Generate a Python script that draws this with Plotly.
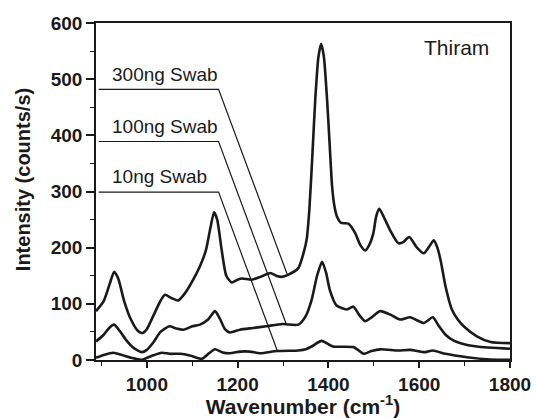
import plotly.graph_objects as go

# 300 ng swab spectrum
wn_300 = [888, 905, 918, 928, 937, 950, 965, 980, 990, 1000, 1015, 1030, 1040, 1055, 1069, 1085, 1100, 1117,
          1130, 1140, 1148, 1155, 1165, 1175, 1187, 1200, 1210, 1231, 1250, 1272, 1285, 1297, 1312, 1334, 1345,
          1352, 1358, 1365, 1371, 1378, 1384, 1390, 1397, 1403, 1408, 1413, 1419, 1428, 1444, 1459, 1470, 1481,
          1490, 1499, 1505, 1512, 1520, 1536, 1554, 1565, 1578, 1595, 1610, 1622, 1632, 1640, 1647, 1658, 1672,
          1685, 1698, 1727, 1757, 1800]
int_300 = [87, 105, 135, 157, 145, 105, 72, 52, 48, 55, 80, 105, 116, 110, 106, 120, 140, 167,
           195, 235, 263, 250, 195, 150, 138, 143, 145, 143, 148, 155, 150, 148, 152, 164, 190,
           214, 268, 370, 464, 540, 563, 540, 464, 380, 310, 275, 255, 244, 243, 226, 205, 195,
           205, 226, 255, 269, 258, 231, 208, 210, 219, 200, 190, 202, 213, 200, 178, 131, 90,
           72, 60, 42, 32, 30]

# 100 ng swab spectrum
wn_100 = [888, 905, 918, 928, 940, 955, 970, 989, 1000, 1015, 1030, 1050, 1065, 1081, 1100, 1117, 1135, 1150,
          1160, 1172, 1183, 1205, 1234, 1263, 1299, 1334, 1350, 1363, 1375, 1386, 1395, 1403, 1418, 1440, 1455,
          1468, 1481, 1495, 1514, 1536, 1558, 1580, 1610, 1630, 1642, 1658, 1675, 1691, 1727, 1800]
int_100 = [33, 45, 58, 63, 52, 35, 22, 14, 18, 32, 50, 60, 56, 54, 60, 63, 72, 87,
           75, 55, 49, 54, 57, 60, 64, 63, 78, 107, 150, 175, 155, 125, 97, 90, 95,
           80, 69, 76, 87, 81, 72, 76, 66, 76, 62, 45, 35, 30, 24, 20]

# 10 ng swab spectrum
wn_10 = [888, 905, 926, 945, 965, 989, 1010, 1033, 1050, 1073, 1095, 1121, 1137, 1150, 1165, 1183, 1205, 1227,
         1250, 1287, 1334, 1350, 1363, 1385, 1400, 1410, 1455, 1465, 1477, 1495, 1514, 1554, 1580, 1613, 1630,
         1658, 1705, 1757, 1800]
int_10 = [4, 9, 13, 9, 4, 0.5, 7, 13, 11, 11, 8, 2, 12, 19, 14, 12, 15, 15,
          12, 16, 17, 19, 24, 34, 28, 24, 23, 18, 11, 16, 19, 17, 18, 14, 17,
          11, 5, 1, 0.5]

# labels and leader lines
label_names = ["300ng Swab", "100ng Swab", "10ng Swab"]
label_text_y = [508, 415, 326]
leader_start_x = [894, 894, 894]
leader_elbow_x = [1158, 1158, 1158]
leader_level_y = [482, 389, 299]
leader_end_x = [1309, 1307, 1288]
leader_end_y = [153, 64, 15]
label_text_x = 919

FONT = "Arial, Liberation Sans, sans-serif"
INK = "#1a1a1a"

fig = go.Figure()
for wx, wy in [(wn_300, int_300), (wn_100, int_100), (wn_10, int_10)]:
    fig.add_trace(go.Scatter(x=wx, y=wy, mode="lines",
                             line=dict(color=INK, width=2.6, shape="spline", smoothing=0.6),
                             showlegend=False, hoverinfo="skip"))

for i, name in enumerate(label_names):
    fig.add_trace(go.Scatter(
        x=[leader_start_x[i], leader_elbow_x[i], leader_end_x[i]],
        y=[leader_level_y[i], leader_level_y[i], leader_end_y[i]],
        mode="lines", line=dict(color=INK, width=1.2),
        showlegend=False, hoverinfo="skip"))
    fig.add_annotation(x=label_text_x, y=label_text_y[i], text=name, showarrow=False,
                       xanchor="left", yanchor="middle",
                       font=dict(family=FONT, size=19, color=INK))

fig.add_annotation(x=1758, y=557, text="Thiram", showarrow=False,
                   xanchor="right", yanchor="middle",
                   font=dict(family=FONT, size=21, color=INK))

# y-axis title (placed as rotated annotation to match the reference position)
fig.add_annotation(xref="paper", yref="paper", x=-0.176, y=0.534, text="<b>Intensity (counts/s)</b>",
                   textangle=-90, showarrow=False, xanchor="center", yanchor="middle",
                   font=dict(family=FONT, size=20, color=INK))

axis_common = dict(showline=True, linecolor=INK, linewidth=1.6, mirror=True,
                   ticks="outside", tickcolor=INK, tickwidth=1.6,
                   showgrid=False, zeroline=False, automargin=False,
                   tickfont=dict(family=FONT, size=19, color=INK, weight="bold"))

fig.update_xaxes(range=[888, 1800], tickvals=[1000, 1200, 1400, 1600, 1800], ticklen=6,
                 minor=dict(dtick=100, ticks="outside", ticklen=4, tickwidth=1.4, tickcolor=INK),
                 title=dict(text="Wavenumber (cm<sup>-1</sup>)", standoff=8,
                            font=dict(family=FONT, size=21, color=INK, weight="bold")),
                 **axis_common)
fig.update_yaxes(range=[0, 600], dtick=100, ticklen=8,
                 minor=dict(dtick=50, ticks="outside", ticklen=4, tickwidth=1.4, tickcolor=INK),
                 **axis_common)

fig.update_layout(width=536, height=418, margin=dict(l=96, r=26, t=23, b=58, autoexpand=False),
                  plot_bgcolor="white", paper_bgcolor="white")

fig.write_html("out.html")
